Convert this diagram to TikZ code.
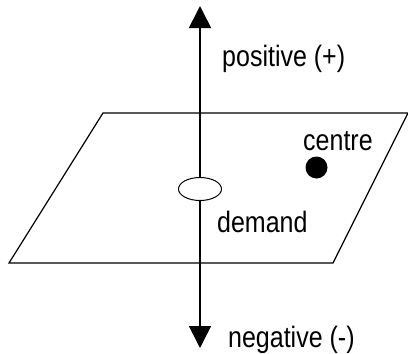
\documentclass[tikz,border=0pt]{standalone}
\usepackage{fontspec}
\setmainfont{Liberation Sans}
\usepackage{graphicx}
\usetikzlibrary{arrows.meta,shapes.geometric}
\newcommand{\tall}[1]{\scalebox{1}[1.18]{#1}}

\begin{document}
\begin{tikzpicture}[x=1pt,y=-1pt,
    axisline/.style={line width=1.6pt,
      {Triangle[width=22pt,length=22pt]}-{Triangle[width=22pt,length=22pt]}},
    plane/.style={line width=1.2pt,line join=miter},
    lbl/.style={font=\fontsize{25}{30}\selectfont,inner sep=0pt,anchor=base west}]
  \useasboundingbox (0,0) rectangle (408,354);

  %% The plane (parallelogram)
  \draw[plane] (103,113) -- (408,113) -- (333,263) -- (9,263) -- cycle;

  %% Vertical axis, positive up and negative down
  \coordinate (top) at (200,6);
  \coordinate (bottom) at (200,348);
  \draw[axisline] (bottom) -- (top);

  %% Demand ring where the axis meets the plane
  \node[draw,fill=white,ellipse,line width=1pt,inner sep=0pt,
        minimum width=43pt,minimum height=23pt] (ring) at (200,189) {};

  %% Centre point
  \node[circle,fill=black,inner sep=0pt,minimum size=22pt] (centredot) at (316.5,167.5) {};

  %% Labels
  \node[lbl] (pos) at (222,66) {\tall{positive (+)}};
  \node[lbl] (neg) at (228,347) {\tall{negative (-)}};
  \node[lbl] (dem) at (217,232) {\tall{demand}};
  \node[lbl] (cen) at (303,150) {\tall{centre}};
\end{tikzpicture}
\end{document}
